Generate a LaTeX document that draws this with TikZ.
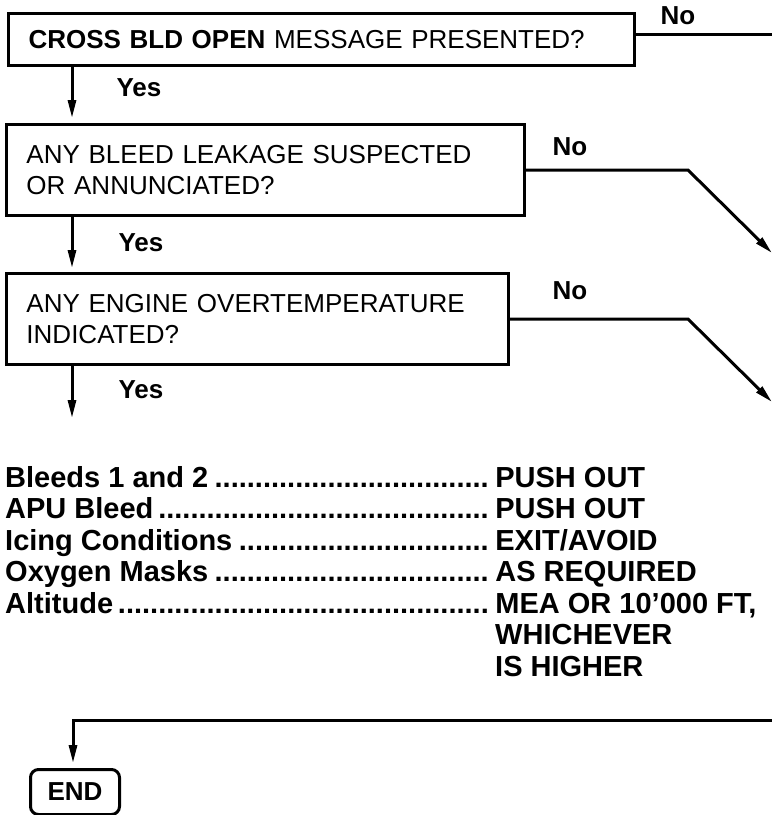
\documentclass[tikz,border=0pt]{standalone}
\usepackage{fontspec}
\setmainfont{Liberation Sans}
\usetikzlibrary{arrows.meta}
\begin{document}
\begin{tikzpicture}[x=1pt,y=-1pt,
  qbox/.style={draw, line width=3pt, anchor=north west, align=left, inner xsep=20pt, inner ysep=0pt, font=\fontsize{26}{31}\selectfont},
  conn/.style={line width=3pt},
  arr/.style={conn, -{Triangle[length=18pt,width=8pt]}},
  lab/.style={font=\bfseries\fontsize{26}{30}\selectfont, inner sep=0pt},
  rowtxt/.style={anchor=base west, inner sep=0pt, font=\bfseries\fontsize{29}{31}\selectfont},
  endbox/.style={draw, line width=3pt, rounded corners=8pt, anchor=north west, inner sep=0pt, font=\bfseries\fontsize{26}{30}\selectfont},
]
\useasboundingbox (0,0) rectangle (772,815);

% question boxes
\node[qbox, text width=586pt, minimum height=52pt] (b1) at (7,12) {{\bfseries CROSS BLD OPEN} MESSAGE PRESENTED?};
\node[qbox, text width=478pt, minimum height=91pt] (b2) at (5,123) {ANY BLEED LEAKAGE SUSPECTED\\OR ANNUNCIATED?};
\node[qbox, text width=462pt, minimum height=91pt] (b3) at (5,272) {ANY ENGINE OVERTEMPERATURE\\INDICATED?};

% labels
\node[lab] (no1) at (678,16) {No};
\node[lab] (yes1) at (139,88) {Yes};
\node[lab] (no2) at (570,147) {No};
\node[lab] (yes2) at (141,243) {Yes};
\node[lab] (no3) at (570,291) {No};
\node[lab] (yes3) at (141,390) {Yes};

% helper coordinates
\coordinate (colx) at (72,0);
\coordinate (bendx) at (688,0);
\coordinate (e1) at (772,34);
\coordinate (e2) at (772,253);
\coordinate (e3) at (772,402);
\coordinate (a3) at (72,418);
\coordinate (r0) at (772,720);
\coordinate (c0) at (73,720);

% connectors
\draw[conn] (b1.east |- e1) -- (e1);
\draw[arr, shorten >=5pt] (b1.south -| colx) -- (b2.north -| colx);
\draw[arr, shorten >=4pt] (b2.south -| colx) -- (b3.north -| colx);
\draw[arr] (b3.south -| colx) -- (a3);
\draw[arr] (b2.east) -- (b2.east -| bendx) -- (e2);
\draw[arr] (b3.east) -- (b3.east -| bendx) -- (e3);

% checklist
\node[rowtxt] (r1) at (5,487) {\makebox[490pt][l]{Bleeds 1 and 2\leaders\hbox{.}\hfill}PUSH OUT};
\node[rowtxt] (r2) at (5,518) {\makebox[490pt][l]{APU Bleed\leaders\hbox{.}\hfill}PUSH OUT};
\node[rowtxt] (r3) at (5,550) {\makebox[490pt][l]{Icing Conditions\leaders\hbox{.}\hfill}EXIT/AVOID};
\node[rowtxt] (r4) at (5,581) {\makebox[490pt][l]{Oxygen Masks\leaders\hbox{.}\hfill}AS REQUIRED};
\node[rowtxt] (r5) at (5,613) {\makebox[490pt][l]{Altitude\leaders\hbox{.}\hfill}MEA OR 10’000 FT,};
\node[rowtxt] (r6) at (495,644) {WHICHEVER};
\node[rowtxt] (r7) at (495,676) {IS HIGHER};

% end
\node[endbox, minimum width=89pt, minimum height=45pt] (endb) at (29,768) {END};
\draw[arr, shorten >=5pt] (r0) -- (c0) -- (endb.north -| c0);
\end{tikzpicture}
\end{document}
